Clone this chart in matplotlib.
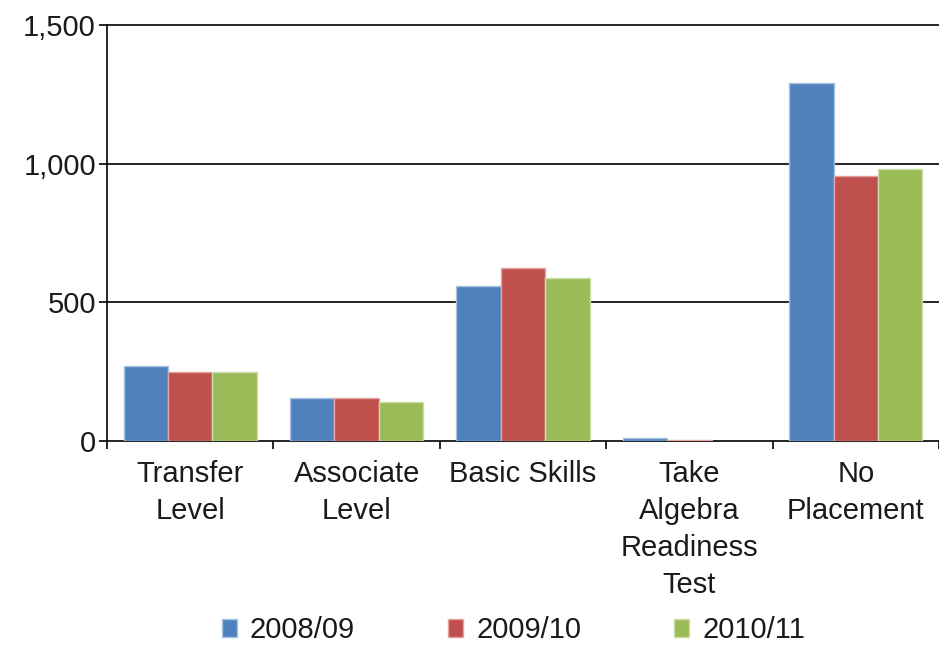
import numpy as np
import matplotlib
matplotlib.use('Agg')
import matplotlib.pyplot as plt
from matplotlib.patches import Patch

# data
categories = ["Transfer\nLevel", "Associate\nLevel", "Basic Skills",
              "Take\nAlgebra\nReadiness\nTest", "No\nPlacement"]
years = ["2008/09", "2009/10", "2010/11"]
vals_0809 = [270, 154, 559, 10, 1292]
vals_0910 = [248, 154, 625, 5, 957]
vals_1011 = [248, 140, 587, 0, 980]
yticks = [0, 500, 1000, 1500]

colors = ['#4F81BD', '#C0504D', '#9BBB59']
edges = ['#A9C2E0', '#E3A4A2', '#CBDDA8']

plt.rcParams['font.family'] = ['Liberation Sans', 'DejaVu Sans']

fig = plt.figure(figsize=(9.39, 6.47), dpi=100)
ax = fig.add_axes([0.114, 0.3184, 0.886, 0.643])

x = np.arange(len(categories))
w = 0.267
series = [vals_0809, vals_0910, vals_1011]
for i in range(3):
	bars = ax.bar(x + (i - 1) * w, series[i], w, color=colors[i], edgecolor=edges[i],
		linewidth=1.0, zorder=3)
	for b in bars:
		if b.get_height() == 0:
			b.set_visible(False)		# empty bar, no outline on the axis

ax.set_xlim(-0.5, 4.5)
ax.set_ylim(0, 1500)
ax.set_yticks(yticks)
ax.set_yticklabels(['{:,}'.format(v) for v in yticks], fontsize=21, color='#1a1a1a')
for v in yticks:
	ax.axhline(v, color='black', linewidth=1.2, zorder=2, clip_on=False)

ax.set_xticks(x)
ax.set_xticklabels(categories, fontsize=21, color='#1a1a1a', linespacing=1.4)
ax.set_xticks(np.arange(-0.5, 4.6, 1.0), minor=True)
ax.tick_params(axis='x', which='major', length=0, pad=14)
ax.tick_params(axis='x', which='minor', length=6, width=1.2, direction='out')
ax.tick_params(axis='y', length=6, width=1.2, pad=2)

for s in ['top', 'right', 'bottom']:
	ax.spines[s].set_visible(False)
ax.spines['left'].set_linewidth(1.2)

handles = [Patch(facecolor=colors[i], edgecolor=edges[i], label=years[i]) for i in range(3)]
fig.legend(handles=handles, loc='center', bbox_to_anchor=(0.547, 0.026), ncol=3,
	frameon=False, fontsize=21, handlelength=0.5, handleheight=0.6,
	handletextpad=0.45, columnspacing=3.2, labelcolor='#1a1a1a')

plt.savefig('out.png', dpi=100)
